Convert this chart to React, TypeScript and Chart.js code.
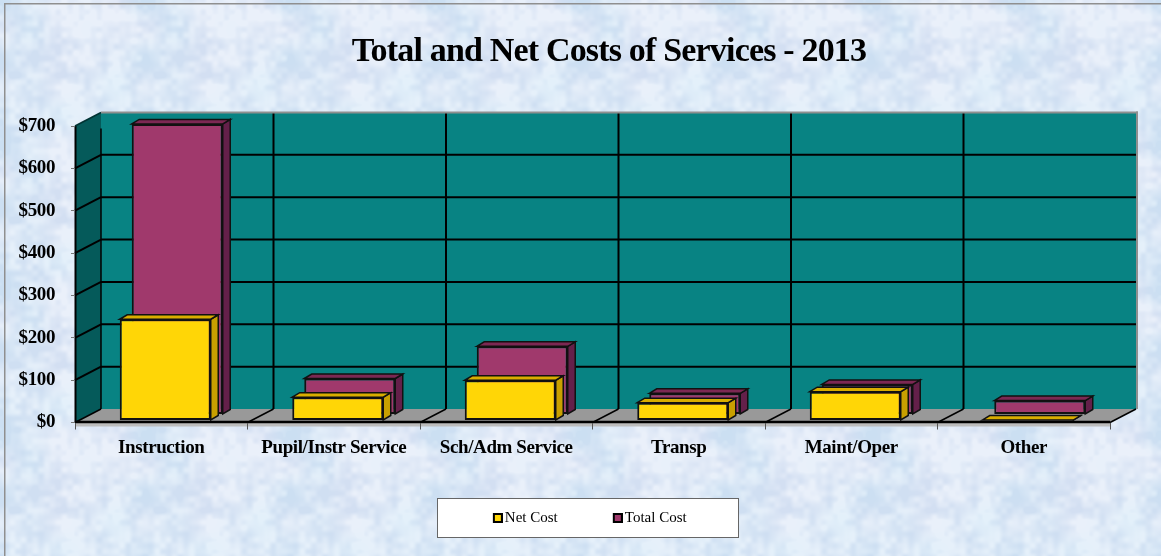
import React, { useEffect, useRef } from "react";
import { Chart, registerables } from "chart.js";

Chart.register(...registerables);

const categories = ["Instruction", "Pupil/Instr Service", "Sch/Adm Service", "Transp", "Maint/Oper", "Other"];
const netCost = [239, 55, 95, 42, 68, 1];
const totalCost = [686, 85, 161, 50, 71, 33];
const SERIF = "'Liberation Serif', serif";

const WALL_DX = 26;
const WALL_DY = -13.5;
const BAR_DX = 7.5;
const BAR_DY = -4.5;

const faceStyles: Record<string, { dx: number; dy: number; front: string; side: string; top: string }> = {
  "Net Cost": { dx: 4, dy: -2, front: "#FFD606", side: "#C9A000", top: "#D9AD00" },
  "Total Cost": { dx: 16, dy: -8, front: "#A0396C", side: "#64204A", top: "#7C2853" },
};

function hash(x: number, y: number) {
  const s = Math.sin(x * 127.1 + y * 311.7) * 43758.5453;
  return s - Math.floor(s);
}

function smoothNoise(x: number, y: number, period: number) {
  const xi = Math.floor(x);
  const yi = Math.floor(y);
  const fx = x - xi;
  const fy = y - yi;
  const u = fx * fx * (3 - 2 * fx);
  const v = fy * fy * (3 - 2 * fy);
  const h = (a: number, b: number) => hash(((a % period) + period) % period, ((b % period) + period) % period);
  return (
    h(xi, yi) * (1 - u) * (1 - v) +
    h(xi + 1, yi) * u * (1 - v) +
    h(xi, yi + 1) * (1 - u) * v +
    h(xi + 1, yi + 1) * u * v
  );
}

function makeTexture(w: number, h: number) {
  const c = document.createElement("canvas");
  c.width = w;
  c.height = h;
  const g = c.getContext("2d")!;
  const img = g.createImageData(w, h);
  const tile = 145;
  for (let y = 0; y < h; y++) {
    for (let x = 0; x < w; x++) {
      const tx = x % tile;
      const ty = y % tile;
      const n =
        0.3 * smoothNoise(tx / 36.25, ty / 36.25, 4) +
        0.35 * smoothNoise(tx / 14.5, ty / 14.5, 10) +
        0.35 * smoothNoise(tx / 5.8, ty / 5.8, 25);
      const pink = smoothNoise(tx / 29, ty / 29, 5);
      const t = Math.min(1, Math.max(0, (n - 0.3) / 0.4));
      const i = (y * w + x) * 4;
      img.data[i] = 208 + t * 23 + (pink - 0.5) * 10;
      img.data[i + 1] = 223 + t * 17;
      img.data[i + 2] = 242 + t * 8;
      img.data[i + 3] = 255;
    }
  }
  g.putImageData(img, 0, 0);
  return c;
}

function makeSwatch(fill: string) {
  const c = document.createElement("canvas");
  c.width = 12;
  c.height = 10;
  const g = c.getContext("2d")!;
  g.fillStyle = "#000";
  g.fillRect(2, 0, 10, 10);
  g.fillStyle = fill;
  g.fillRect(4, 2, 6, 6);
  return c;
}

function poly(ctx: CanvasRenderingContext2D, pts: number[][], fill?: string, stroke?: string, lw = 1) {
  ctx.beginPath();
  pts.forEach((p, i) => (i ? ctx.lineTo(p[0], p[1]) : ctx.moveTo(p[0], p[1])));
  ctx.closePath();
  if (fill) {
    ctx.fillStyle = fill;
    ctx.fill();
  }
  if (stroke) {
    ctx.strokeStyle = stroke;
    ctx.lineWidth = lw;
    ctx.stroke();
  }
}

function line(ctx: CanvasRenderingContext2D, x1: number, y1: number, x2: number, y2: number, color: string, lw: number) {
  ctx.beginPath();
  ctx.moveTo(x1, y1);
  ctx.lineTo(x2, y2);
  ctx.strokeStyle = color;
  ctx.lineWidth = lw;
  ctx.stroke();
}

function withSpacing(owner: any, method: string, ctx: any, spacing: string) {
  if (owner["_sp_" + method]) return;
  owner["_sp_" + method] = true;
  const original = owner[method].bind(owner);
  owner[method] = (a: any) => {
    ctx.letterSpacing = spacing;
    original(a);
    ctx.letterSpacing = "0px";
  };
}

export default function App() {
  const ref = useRef<HTMLCanvasElement>(null);

  useEffect(() => {
    document.body.style.margin = "0";
    const texture = makeTexture(1161, 556);

    const scenery = {
      id: "scenery",
      afterLayout(chart: any) {
        chart.titleBlock.left = 57;
        chart.titleBlock.right = 1161;
        const lg = chart.legend;
        lg.left = 437;
        lg.right = 746;
        lg.top = 452;
        withSpacing(chart.titleBlock, "draw", chart.ctx, "-0.82px");
        withSpacing(chart.scales.x, "drawLabels", chart.ctx, "-0.4px");
        withSpacing(chart.scales.y, "drawLabels", chart.ctx, "-0.4px");
      },
      beforeDraw(chart: any) {
        const ctx: CanvasRenderingContext2D = chart.ctx;
        const { left, right, top, bottom } = chart.chartArea;
        const xs = chart.scales.x;
        const ys = chart.scales.y;
        ctx.save();
        ctx.drawImage(texture, 0, 0);
        ctx.fillStyle = "#8f8f8f";
        ctx.fillRect(4, 3, 1157, 1.5);
        ctx.fillRect(4, 3, 1.5, 553);

        // legend box
        ctx.fillStyle = "#fff";
        ctx.fillRect(437, 498, 302, 40);
        ctx.strokeStyle = "#666";
        ctx.lineWidth = 1;
        ctx.strokeRect(437.5, 498.5, 301, 39);

        // walls and floor
        poly(ctx, [[left + WALL_DX, top + WALL_DY], [right + WALL_DX, top + WALL_DY], [right + WALL_DX, bottom + WALL_DY], [left + WALL_DX, bottom + WALL_DY]], "#088383");
        poly(ctx, [[left, top], [left + WALL_DX, top + WALL_DY], [left + WALL_DX, bottom + WALL_DY], [left, bottom]], "#055A5A");
        poly(ctx, [[left, bottom], [left + WALL_DX, bottom + WALL_DY], [right + WALL_DX, bottom + WALL_DY], [right, bottom]], "#999999");
        ctx.fillStyle = "#bdbdbd";
        ctx.fillRect(left, bottom, right - left, 4);

        // horizontal grid on the back and left walls
        ys.ticks.forEach((t: any) => {
          const y = ys.getPixelForValue(t.value);
          if (t.value > 0 && t.value < 700) {
            line(ctx, left, y, left + WALL_DX, y + WALL_DY, "#000", 2);
            line(ctx, left + WALL_DX, y + WALL_DY, right + WALL_DX, y + WALL_DY, "#000", 2);
          }
        });
        // vertical grid and floor slants
        const step = (right - left) / categories.length;
        for (let i = 1; i <= categories.length; i++) {
          const x = xs.getPixelForTick(i - 1) + step / 2;
          line(ctx, x, bottom, x + WALL_DX, bottom + WALL_DY, "#000", 1.5);
          if (i < categories.length) line(ctx, x + WALL_DX, top + WALL_DY, x + WALL_DX, bottom + WALL_DY, "#000", 2);
        }
        // edges
        line(ctx, left + WALL_DX, top + WALL_DY + 16, left + WALL_DX, bottom + WALL_DY, "#000", 1.5);
        line(ctx, left + 0.5, top, left + 0.5, bottom, "#000", 2);
        line(ctx, left, top, left + WALL_DX, top + WALL_DY, "#033", 1.5);
        line(ctx, left, bottom, left + WALL_DX, bottom + WALL_DY, "#000", 1.5);
        line(ctx, left, bottom - 0.5, right, bottom - 0.5, "#000", 2.5);
        ctx.fillStyle = "#8f8f8f";
        ctx.fillRect(left + WALL_DX, top + WALL_DY - 1, right - left + 2, 2);
        ctx.fillRect(right + WALL_DX, top + WALL_DY - 1, 2, bottom - top + 1);
        ctx.restore();
      },
      beforeDatasetDraw(chart: any, args: any) {
        const ctx: CanvasRenderingContext2D = chart.ctx;
        const ds = chart.data.datasets[args.index];
        const st = faceStyles[ds.label];
        ctx.save();
        ctx.translate(st.dx, st.dy);
        args.meta.data.forEach((el: any) => {
          const { x, y, base, width } = el.getProps(["x", "y", "base", "width"], true);
          const l = x - width / 2;
          const r = x + width / 2;
          poly(ctx, [[r, y], [r + BAR_DX, y + BAR_DY], [r + BAR_DX, base + BAR_DY], [r, base]], st.side, "#111", 1.5);
          poly(ctx, [[l, y], [l + BAR_DX, y + BAR_DY], [r + BAR_DX, y + BAR_DY], [r, y]], st.top, "#111", 1.5);
        });
      },
      afterDatasetDraw(chart: any) {
        chart.ctx.restore();
      },
    };

    const chart = new Chart(ref.current!, {
      type: "bar",
      data: {
        labels: categories,
        datasets: [
          {
            label: "Net Cost",
            data: netCost,
            backgroundColor: faceStyles["Net Cost"].front,
            borderColor: "#111",
            borderWidth: 2,
            borderSkipped: false,
            clip: false,
          },
          {
            label: "Total Cost",
            data: totalCost,
            backgroundColor: faceStyles["Total Cost"].front,
            borderColor: "#111",
            borderWidth: 2,
            borderSkipped: false,
            clip: false,
          },
        ] as any,
      },
      options: {
        animation: false,
        responsive: false,
        events: [],
        layout: { padding: { left: 0, right: 51, top: 0, bottom: 0 } },
        datasets: { bar: { grouped: false, barPercentage: 0.5275, categoryPercentage: 1 } },
        plugins: {
          title: {
            display: true,
            text: "Total and Net Costs of Services - 2013",
            color: "#000",
            font: { family: SERIF, size: 34, weight: "bold", lineHeight: 1.2 },
            padding: { top: 32, bottom: 53.2 },
          },
          legend: {
            display: true,
            position: "bottom",
            labels: {
              usePointStyle: true,
              pointStyleWidth: 1,
              boxHeight: 10,
              padding: 58.5,
              color: "#000",
              font: { family: SERIF, size: 15 },
              generateLabels(c: any) {
                return c.data.datasets.map((d: any, i: number) => ({
                  text: d.label,
                  datasetIndex: i,
                  pointStyle: makeSwatch(faceStyles[d.label].front),
                  fontColor: "#000",
                  lineWidth: 0,
                }));
              },
            },
          },
          tooltip: { enabled: false },
        },
        scales: {
          x: {
            afterFit(s: any) {
              s.height = 50;
            },
            border: { display: false },
            grid: { drawOnChartArea: false, drawTicks: true, tickLength: 7, color: "#555", lineWidth: 1 },
            ticks: {
              color: "#000",
              padding: 7,
              maxRotation: 0,
              autoSkip: false,
              font: { family: SERIF, size: 19, weight: "bold" },
            },
          },
          y: {
            min: 0,
            max: 700,
            afterFit(s: any) {
              s.width = 75;
            },
            border: { display: false },
            grid: { drawOnChartArea: false, drawTicks: true, tickLength: 4, color: "#777", lineWidth: 1 },
            ticks: {
              stepSize: 100,
              color: "#000",
              padding: 16,
              font: { family: SERIF, size: 19, weight: "bold" },
              callback: (v: any) => `$${v}`,
            },
          },
        },
      } as any,
      plugins: [scenery as any],
    });
    return () => chart.destroy();
  }, []);

  return <canvas ref={ref} width={1161} height={556} style={{ display: "block" }} />;
}
